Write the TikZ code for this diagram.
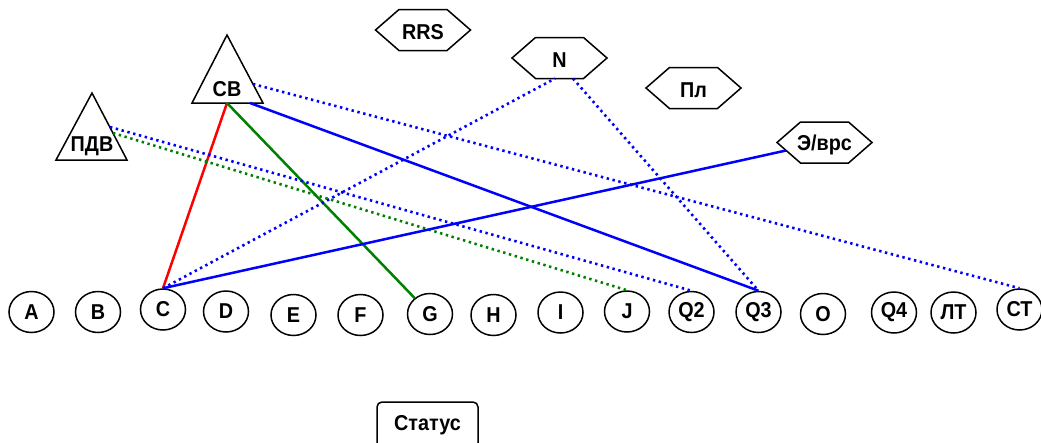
\documentclass[tikz,border=0pt]{standalone}
\usepackage{fontspec}
\setmainfont{Liberation Sans}[FakeStretch=0.92]
\usetikzlibrary{shapes.geometric}
\begin{document}
\begin{tikzpicture}[x=1pt,y=-1pt,
  lbl/.style={font=\bfseries\fontsize{21.5}{24}\selectfont, inner sep=0pt},
  outline/.style={draw=black, line width=1.5pt, line join=miter},
  ell/.style={outline, ellipse, fill=white, minimum width=45pt, minimum height=41pt, inner sep=0pt, lbl},
  hexa/.pic={\draw[outline, fill=white] (-47.5,0) -- (-24,-20.5) -- (24,-20.5) -- (47.5,0) -- (24,20.5) -- (-24,20.5) -- cycle;},
  solidl/.style={line width=2.5pt},
  dotl/.style={line width=2.6pt, dash pattern=on 2.4pt off 3.6pt}
]
\useasboundingbox (0,0) rectangle (1041,442);

% triangles
\draw[outline, fill=white] (227,35) -- (263,103) -- (192,103) -- cycle;
\node[lbl] (CB) at (227,89) {СВ};
\draw[outline, fill=white] (92,93) -- (127,160) -- (56,160) -- cycle;
\node[lbl] (PDV) at (92,146) {ПДВ};

% hexagons
\pic at (423,30) {hexa};
\node[lbl] (RRS) at (423,32) {RRS};
\pic at (559.5,58) {hexa};
\node[lbl] (N) at (559.5,60) {N};
\pic at (693.5,88) {hexa};
\node[lbl] (Pl) at (693.5,90) {Пл};
\pic at (824.5,142.5) {hexa};
\node[lbl] (Evrs) at (824.5,144.5) {Э/врс};

% status box
\node[outline, rounded corners=5pt, minimum width=101pt, minimum height=46pt, lbl, inner sep=0pt] (Status) at (427.5,425) {Статус};

% ellipses
\node[ell] (A) at (31.5,312) {A};
\node[ell] (B) at (98,312) {B};
\node[ell] (C) at (163,309.5) {C};
\node[ell] (D) at (226,311.5) {D};
\node[ell] (E) at (293.5,315) {E};
\node[ell] (F) at (360.5,315) {F};
\node[ell] (G) at (430,314) {G};
\node[ell] (H) at (493.5,315) {H};
\node[ell] (I) at (560.5,312.5) {I};
\node[ell] (J) at (627,311.5) {J};
\node[ell] (Q2) at (691.5,312) {Q2};
\node[ell] (Q3) at (758.5,312) {Q3};
\node[ell] (O) at (823,314) {O};
\node[ell] (Q4) at (894,312.5) {Q4};
\node[ell] (LT) at (953.5,312.5) {ЛТ};
\node[ell] (CT) at (1019.5,309.5) {СТ};

% port coordinates
\coordinate (CBbot) at (227,103);
\coordinate (CBbr) at (250,103);
\coordinate (CBr) at (253,84);
\coordinate (PDr) at (110,127);
\coordinate (PDr2) at (113,133);
\coordinate (Nl) at (555,78.5);
\coordinate (Nr) at (573,78.5);
\coordinate (Ev) at (786,150.5);

% connectors
\draw[solidl, red] (CBbot) -- (C.north);
\draw[solidl, green!50!black] (CBbot) -- (G);
\draw[solidl, blue] (CBbr) -- (Q3.north);
\draw[dotl, blue] (CBr) -- (CT.north);
\draw[dotl, blue] (PDr) -- (Q2.north);
\draw[dotl, green!50!black] (PDr2) -- (J.north);
\draw[dotl, blue] (C.north) -- (Nl);
\draw[dotl, blue] (Nr) -- (Q3.north);
\draw[solidl, blue] (C.north) -- (Ev);
\end{tikzpicture}
\end{document}
